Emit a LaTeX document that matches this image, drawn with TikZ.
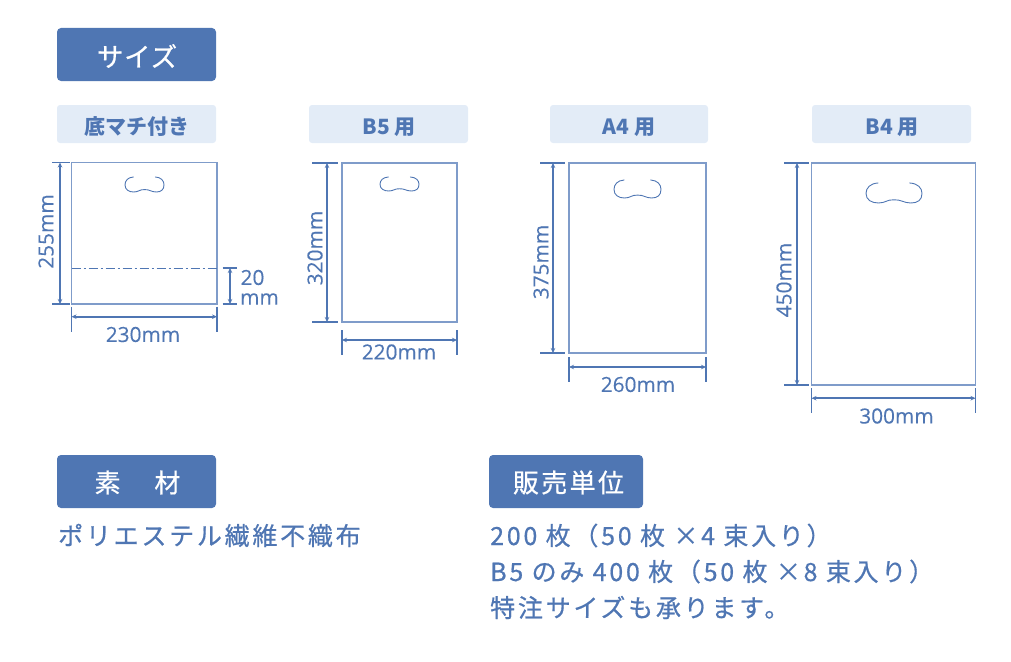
\documentclass[tikz,border=0pt]{standalone}
\usepackage{fontspec}
\setmainfont{Noto Sans CJK JP}
\newfontfamily\dimfont[FakeBold=0.25]{Open Sans}
\newfontfamily\heavyfont[FakeBold=0.6]{Noto Sans CJK JP}
\usetikzlibrary{arrows.meta}
\definecolor{brand}{HTML}{4F76B3}
\definecolor{pale}{HTML}{E3ECF7}
\definecolor{edgeblue}{HTML}{7F9CCA}
\tikzset{
  x=1pt,y=-1pt,
  pill/.style={fill=brand,draw=none,rounded corners=4pt},
  palepill/.style={fill=pale,draw=none,rounded corners=3pt},
  pilltext/.style={text=white,font=\heavyfont\fontsize{26}{26}\selectfont,inner sep=0pt},
  paletext/.style={text=brand,font=\fontsize{21}{21}\selectfont\bfseries,inner sep=0pt},
  bagrect/.style={draw=edgeblue,line width=1.2pt},
  handleline/.style={draw=brand,line width=0.9pt,line cap=round},
  dimline/.style={draw=brand,line width=1.4pt,{Stealth[length=5pt,width=4.5pt]}-{Stealth[length=5pt,width=4.5pt]}},
  tickline/.style={draw=brand,line width=1.4pt},
  dimtext/.style={text=brand,font=\dimfont\fontsize{20.8}{20.8}\selectfont,inner sep=0pt},
  bodytext/.style={text=brand,anchor=west,inner sep=0pt,font=\heavyfont\fontsize{25}{25}\selectfont\addfontfeature{LetterSpace=11}},
}
% handle: centre x, top y, half width, height
\newcommand{\baghandle}[4]{%
  \draw[handleline] ({#1-0.57*#3},{#2})
    .. controls ({#1-0.85*#3},{#2+0.02*#4}) and ({#1-1.0*#3},{#2+0.25*#4}) .. ({#1-1.0*#3},{#2+0.52*#4})
    .. controls ({#1-1.0*#3},{#2+0.85*#4}) and ({#1-0.8*#3},{#2+1.0*#4}) .. ({#1-0.55*#3},{#2+1.0*#4})
    .. controls ({#1-0.3*#3},{#2+1.0*#4}) and ({#1-0.25*#3},{#2+0.82*#4}) .. ({#1},{#2+0.84*#4})
    .. controls ({#1+0.25*#3},{#2+0.82*#4}) and ({#1+0.35*#3},{#2+1.0*#4}) .. ({#1+0.6*#3},{#2+1.0*#4})
    .. controls ({#1+0.85*#3},{#2+1.0*#4}) and ({#1+1.0*#3},{#2+0.85*#4}) .. ({#1+1.0*#3},{#2+0.52*#4})
    .. controls ({#1+1.0*#3},{#2+0.25*#4}) and ({#1+0.85*#3},{#2+0.02*#4}) .. ({#1+0.56*#3},{#2});
}
% bag: id, left, top, right, bottom, dim x, bottom dim y, tick reach left, tick reach right
\newcommand{\bagdraw}[9]{%
  \draw[bagrect] (#2,#3) rectangle (#4,#5);
  \coordinate (#1tl) at (#6,#3); \coordinate (#1bl) at (#6,#5);
  \coordinate (#1lb) at (#2,#7); \coordinate (#1rb) at (#4,#7);
  \draw[dimline] (#1tl) -- (#1bl);
  \draw[dimline,line width=1.7pt] (#1lb) -- (#1rb);
  \draw[tickline] (#6-#8,#3) -- (#6+#9,#3);
  \draw[tickline] (#6-#8,#5) -- (#6+#9,#5);
  \draw[tickline] (#2,#7-10) -- (#2,#7+15);
  \draw[tickline] (#4,#7-10) -- (#4,#7+15);
}
\begin{document}
\begin{tikzpicture}
\useasboundingbox (0,0) rectangle (1011,661);

% section headers
\fill[pill] (57,28) rectangle (216,81);
\node[pilltext,font=\heavyfont\fontsize{26.5}{26.5}\selectfont\addfontfeature{LetterSpace=3}] (hsize) at (137,56) {サイズ};
\fill[pill] (57,455) rectangle (216,508);
\node[pilltext] (hmat) at (137.5,482.5) {素\hspace{1.3em}材};
\fill[pill] (489,455) rectangle (643,508);
\node[pilltext,font=\heavyfont\fontsize{26}{26}\selectfont\addfontfeature{LetterSpace=9}] (hunit) at (568.5,482.5) {販売単位};

% sub headers
\fill[palepill] (57,105) rectangle (216,143);
\node[paletext] (t1) at (136.5,127) {底マチ付き};
\fill[palepill] (309,105) rectangle (468,143);
\node[paletext] (t2) at (389,127) {B5 用};
\fill[palepill] (550,105) rectangle (708,143);
\node[paletext] (t3) at (629,127) {A4 用};
\fill[palepill] (812,105) rectangle (971,143);
\node[paletext] (t4) at (892,127) {B4 用};

% bags
\bagdraw{a}{71.5}{162.5}{217}{304}{60}{316.7}{8}{10}
\baghandle{144.5}{177}{19.5}{15}
\bagdraw{b}{342}{163}{457}{322}{327}{340}{15}{11}
\baghandle{399.5}{177}{19.5}{14}
\bagdraw{c}{569}{163}{706}{353}{553}{367}{13}{12}
\baghandle{637.5}{180}{23.5}{18}
\bagdraw{d}{811.5}{163}{975.5}{385}{797}{398.2}{13}{12}
\baghandle{894}{183}{28}{20}

% fold line bag a
\draw[draw=brand,line width=0.8pt,dash pattern=on 9pt off 3pt on 2pt off 3pt] (71.5,268) -- (217,268);
\coordinate (f1) at (230,268); \coordinate (f2) at (230,304);
\draw[dimline] (f1) -- (f2);
\draw[tickline] (222.5,268) -- (237,268);
\draw[tickline] (222.5,304) -- (237,304);

% dimension labels
\node[dimtext,rotate=90] (l1) at (46,231.5) {255mm};
\node[dimtext,rotate=90] (l2) at (315,248) {320mm};
\node[dimtext,rotate=90] (l3) at (541,262) {375mm};
\node[dimtext,rotate=90] (l4) at (784,280) {450mm};
\node[dimtext] (w1) at (143,334.5) {230mm};
\node[dimtext] (w2) at (399,352) {220mm};
\node[dimtext] (w3) at (638,384.5) {260mm};
\node[dimtext] (w4) at (896.5,416) {300mm};
\node[dimtext] (n20) at (252.5,277.5) {20};
\node[dimtext] (nmm) at (259.5,299) {mm};

% body text
\node[bodytext] (m1) at (58,535.5) {ポリエステル繊維不織布};
\node[bodytext] (u1) at (490,535.5) {200 枚（50 枚 ×4 束入り）};
\node[bodytext] (u2) at (490,571.5) {B5 のみ 400 枚（50 枚 ×8 束入り）};
\node[bodytext] (u3) at (490,607.5) {特注サイズも承ります。};
\end{tikzpicture}
\end{document}
